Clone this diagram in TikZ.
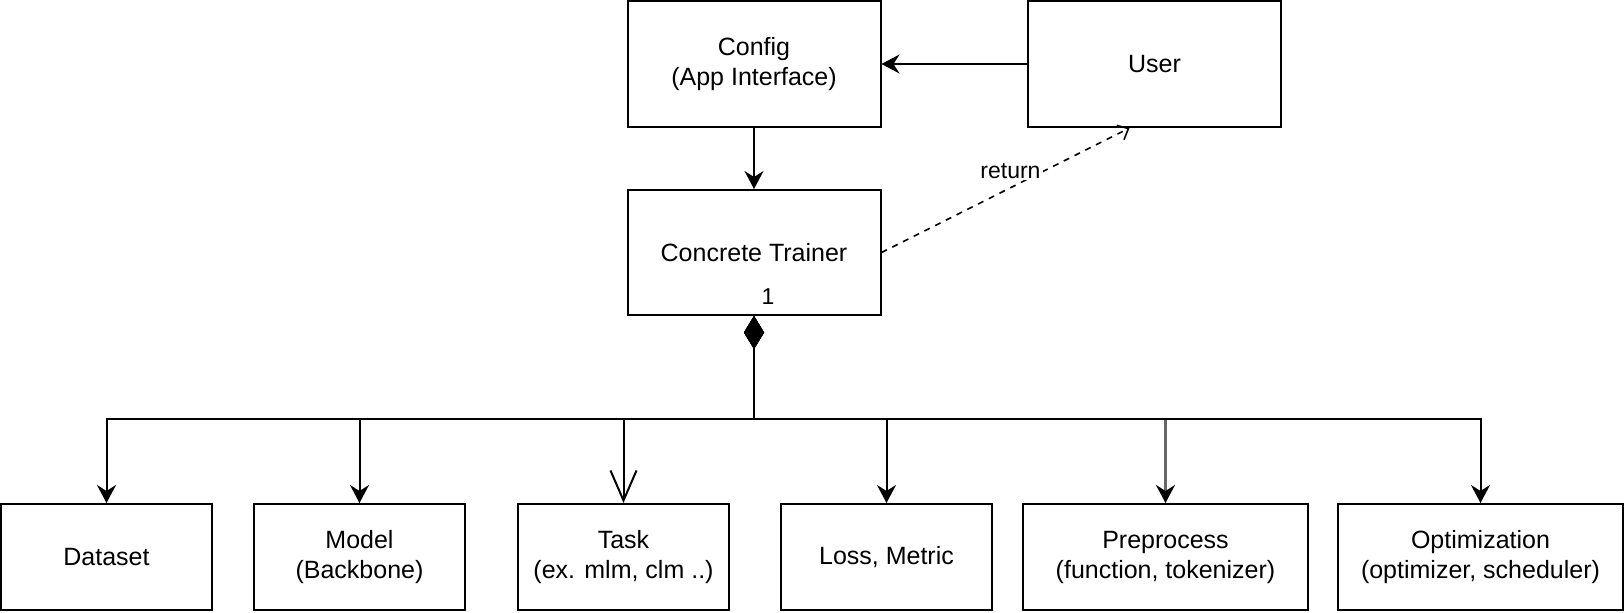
\documentclass[tikz,border=0pt]{standalone}
\usepackage{fontspec}
\setmainfont{Liberation Sans}
\usetikzlibrary{arrows.meta}
\definecolor{linegray}{HTML}{666666}
\tikzset{
  box/.style={draw, line width=1pt, align=center, inner sep=2pt,
    font=\fontsize{12.5}{15}\selectfont},
  lbl/.style={inner sep=1pt, font=\fontsize{11.5}{13}\selectfont},
  dia/.tip={Diamond[length=16.5pt,width=10pt]},
  arr/.tip={Stealth[length=9pt,width=9.5pt,inset=3pt]},
  vee/.tip={Straight Barb[length=15pt,width=13pt]},
  smallvee/.tip={Straight Barb[length=4.5pt,width=8pt]}
}
\begin{document}
\begin{tikzpicture}[x=0.5pt,y=-0.5pt]
      \useasboundingbox (0,0) rectangle (1624,612);
      \draw
        (754,64) node[box, minimum width=126.5pt, minimum height=63pt] (config){Config\\(App Interface)}
        (1154.5,64) node[box, minimum width=126.5pt, minimum height=63pt] (user){User}
        (754,252.5) node[box, minimum width=126.5pt, minimum height=62.5pt] (trainer){Concrete Trainer}
        (106.5,557) node[box, minimum width=105.5pt, minimum height=53pt] (dataset){Dataset}
        (359.5,557) node[box, minimum width=105.5pt, minimum height=53pt] (model){Model\\(Backbone)}
        (623.5,557) node[box, minimum width=105.5pt, minimum height=53pt] (task){Task\\(ex. mlm, clm ..)}
        (886.5,557) node[box, minimum width=105.5pt, minimum height=53pt] (loss){Loss, Metric}
        (1165.5,557) node[box, minimum width=142.5pt, minimum height=53pt] (prep){Preprocess\\(function, tokenizer)}
        (1480.5,557) node[box, minimum width=142.5pt, minimum height=53pt] (optim){Optimization\\(optimizer, scheduler)};
      \coordinate (bus) at (754,419);
      \node[lbl] (one) at ([xshift=7pt,yshift=9.5pt]trainer.south) {1};
      \begin{scope}[line width=1pt]
        \draw[-arr] (user) to (config);
        \draw[-arr] (config) to (trainer);
        \draw[line width=0.8pt, dash pattern=on 3pt off 3pt, -smallvee] (trainer.east) to
          node[lbl, fill=white, pos=0.52, yshift=8.5pt] (ret){return} ([xshift=-12.5pt]user.south);
        \draw[linegray, line width=1.1pt, dia-{Stealth[length=9pt,width=9.5pt,inset=3pt,black]}] (trainer.south) -- (trainer.south |- bus) -| (prep.north);
        \draw[dia-arr] (trainer.south) -- (trainer.south |- bus) -| (dataset.north);
        \draw[dia-arr] (trainer.south) -- (trainer.south |- bus) -| (model.north);
        \draw[dia-vee] (trainer.south) -- (trainer.south |- bus) -| (task.north);
        \draw[dia-arr] (trainer.south) -- (trainer.south |- bus) -| (loss.north);
        \draw[dia-arr] (trainer.south) -- (trainer.south |- bus) -| (optim.north);
      \end{scope}
    \end{tikzpicture}
\end{document}
